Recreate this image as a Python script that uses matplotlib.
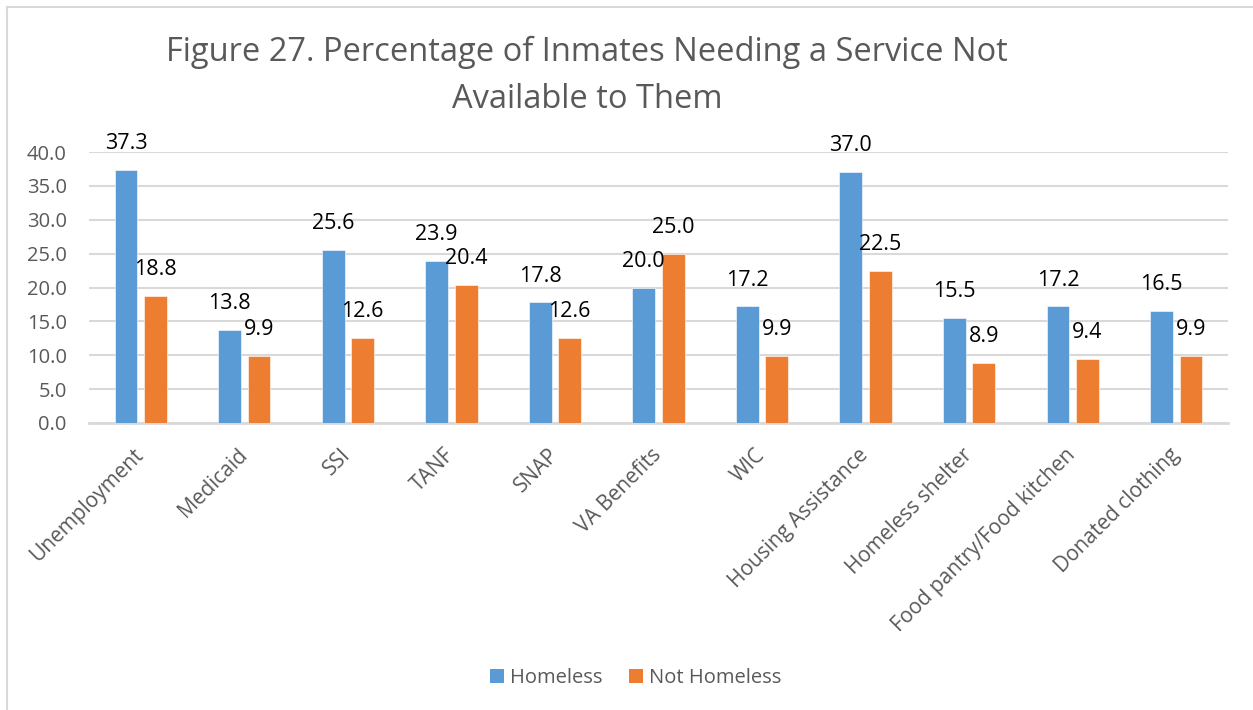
import matplotlib
matplotlib.use("Agg")
import matplotlib.pyplot as plt
import numpy as np
from matplotlib.lines import Line2D
from matplotlib.patches import Patch

plt.rcParams['font.family'] = ['Open Sans', 'DejaVu Sans']

categories = ["Unemployment", "Medicaid", "SSI", "TANF", "SNAP", "VA Benefits",
              "WIC", "Housing Assistance", "Homeless shelter",
              "Food pantry/Food kitchen", "Donated clothing"]
homeless = [37.3, 13.8, 25.6, 23.9, 17.8, 20.0, 17.2, 37.0, 15.5, 17.2, 16.5]
not_homeless = [18.8, 9.9, 12.6, 20.4, 12.6, 25.0, 9.9, 22.5, 8.9, 9.4, 9.9]
series_names = ["Homeless", "Not Homeless"]
yticks = [0, 5, 10, 15, 20, 25, 30, 35, 40]
title = "Figure 27. Percentage of Inmates Needing a Service Not\nAvailable to Them"

BLUE = "#5B9BD5"
ORANGE = "#ED7D31"
GRID = "#D9D9D9"
TEXT = "#595959"

W, H = 1253, 710
fig = plt.figure(figsize=(W / 100, H / 100), dpi=100)
ax = fig.add_axes([89 / W, 1 - 423 / H, (1228 - 89) / W, (423 - 152) / H])

x = np.arange(len(categories))
bw = 0.22
off = 0.142
b1 = ax.bar(x - off, homeless, bw, color=BLUE, edgecolor="white", linewidth=0.4, zorder=3)
b2 = ax.bar(x + off, not_homeless, bw, color=ORANGE, edgecolor="white", linewidth=0.4, zorder=3)

for bars, vals in ((b1, homeless), (b2, not_homeless)):
    for rect, v in zip(bars, vals):
        ax.annotate(f"{v:.1f}", (rect.get_x() + rect.get_width() / 2, v),
                    xytext=(0, 19), textcoords="offset points",
                    ha="center", va="center", fontsize=15.5, color="black",
                    annotation_clip=False, zorder=4)

ax.set_xlim(-0.5, len(categories) - 0.5)
ax.set_ylim(0, 40)
ax.set_yticks(yticks)
ax.set_yticklabels([f"{t:.1f}" for t in yticks])
ax.yaxis.grid(True, color=GRID, linewidth=1.5, zorder=0)
ax.set_axisbelow(True)
for s in ("top", "right", "left"):
    ax.spines[s].set_visible(False)
ax.spines["bottom"].set_color(GRID)
ax.spines["bottom"].set_linewidth(2)
ax.tick_params(axis="y", length=0, pad=16, labelsize=14.5, labelcolor=TEXT)
ax.tick_params(axis="x", length=0, pad=21, labelsize=15, labelcolor=TEXT)
ax.set_xticks(x)
ax.set_xticklabels(categories, rotation=45, ha="right", va="center",
                   rotation_mode="anchor")

fig.text(587 / W, 1 - 76 / H, title, ha="center", va="center",
         fontsize=23.5, color=TEXT, linespacing=1.55)

handles = [Patch(facecolor=BLUE, edgecolor="none"), Patch(facecolor=ORANGE, edgecolor="none")]
fig.legend(handles, series_names, loc="center", bbox_to_anchor=(636 / W, 1 - 678 / H),
           ncol=2, frameon=False, fontsize=14.5, labelcolor=TEXT,
           handlelength=0.7, handleheight=0.7, handletextpad=0.3, columnspacing=1.3)

# chart area frame edges
fig.add_artist(Line2D([7 / W, 7 / W], [0, 1 - 7 / H], color=GRID, linewidth=1.5))
fig.add_artist(Line2D([7 / W, 1], [1 - 7 / H, 1 - 7 / H], color=GRID, linewidth=1.5))

fig.savefig("out.png", dpi=100)
